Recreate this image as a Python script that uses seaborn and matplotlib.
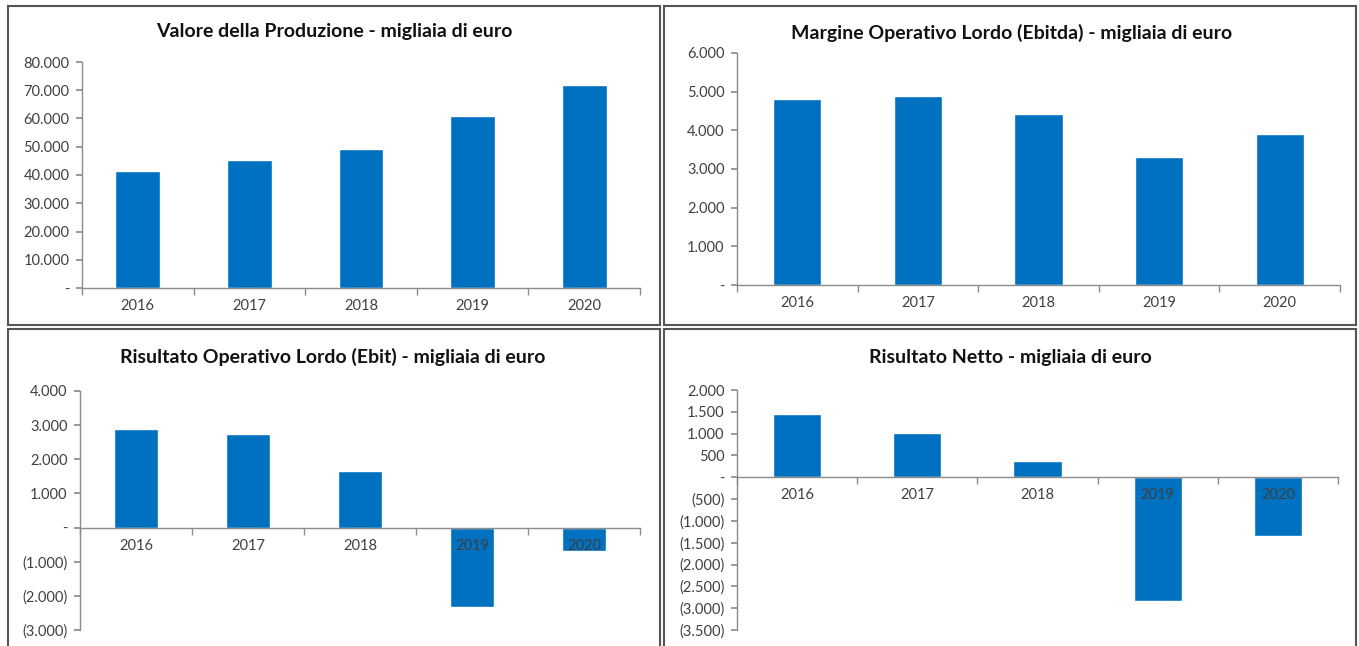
import matplotlib
matplotlib.use("Agg")
import matplotlib.pyplot as plt
import matplotlib.ticker as mticker
from matplotlib.patches import Rectangle
import seaborn as sns
import pandas as pd

anni = ["2016", "2017", "2018", "2019", "2020"]

valore_produzione = [41250, 45150, 49050, 61000, 71900]
ebitda = [4810, 4880, 4420, 3310, 3905]
ebit = [2880, 2745, 1645, -2315, -680]
risultato_netto = [1450, 1010, 375, -2835, -1355]

titoli = [
    "Valore della Produzione - migliaia di euro",
    "Margine Operativo Lordo (Ebitda) - migliaia di euro",
    "Risultato Operativo Lordo (Ebit) - migliaia di euro",
    "Risultato Netto - migliaia di euro",
]

BLU = "#0070C0"

sns.set_theme(style="white")
plt.rcParams["font.family"] = ["Lato", "DejaVu Sans"]


def formato_euro(v, pos):
    if abs(v) < 1e-9:
        return "-"
    s = f"{abs(v):,.0f}".replace(",", ".")
    return f"({s})" if v < 0 else s


def grafico(ax, valori, titolo, ymin, ymax, passo, y_titolo):
    df = pd.DataFrame({"anno": anni, "valore": valori})
    sns.barplot(data=df, x="anno", y="valore", color=BLU, width=0.4,
                saturation=1, ax=ax)
    ax.set_axisbelow(False)
    ax.set_xlim(-0.5, len(anni) - 0.5)
    ax.set_ylim(ymin, ymax)
    ax.yaxis.set_major_locator(mticker.MultipleLocator(passo))
    ax.yaxis.set_major_formatter(mticker.FuncFormatter(formato_euro))
    ax.set_xlabel("")
    ax.set_ylabel("")
    for lato in ["top", "right"]:
        ax.spines[lato].set_visible(False)
    ax.spines["bottom"].set_position(("data", 0))
    for lato in ["left", "bottom"]:
        ax.spines[lato].set_color("#8c8c8c")
        ax.spines[lato].set_linewidth(1.0)
    ax.set_xticks([i + 0.5 for i in range(-1, len(anni))], minor=True)
    ax.tick_params(axis="x", which="major", length=0, pad=8,
                   labelsize=10.5, labelcolor="#404040")
    ax.tick_params(axis="x", which="minor", length=5, color="#8c8c8c",
                   direction="out", bottom=True)
    ax.tick_params(axis="y", length=4, color="#8c8c8c", left=True,
                   labelsize=10.5, labelcolor="#404040", pad=5)
    fig.text(ax.get_position().x0 + ax.get_position().width / 2 - 0.02,
             y_titolo, titolo, ha="center", va="center",
             fontsize=14, fontweight="bold", color="#111111")


fig = plt.figure(figsize=(13.59, 6.46), dpi=100)

# cornici dei quattro riquadri
for x0, y0, x1, y1 in [(8, 6, 660, 325), (664, 6, 1356, 325),
                       (8, 329, 660, 660), (664, 329, 1356, 660)]:
    fig.patches.append(Rectangle((x0 / 1359, 1 - y1 / 646),
                                 (x1 - x0) / 1359, (y1 - y0) / 646,
                                 transform=fig.transFigure, fill=False,
                                 edgecolor="#555555", linewidth=1.5))

ax1 = fig.add_axes([82 / 1359, 1 - 288 / 646, 558 / 1359, 226 / 646])
grafico(ax1, valore_produzione, titoli[0], 0, 80000, 10000, 1 - 31 / 646)

ax2 = fig.add_axes([737 / 1359, 1 - 285 / 646, 603 / 1359, 232 / 646])
grafico(ax2, ebitda, titoli[1], 0, 6000, 1000, 1 - 33 / 646)

ax3 = fig.add_axes([80 / 1359, 1 - 630 / 646, 560 / 1359, 239 / 646])
grafico(ax3, ebit, titoli[2], -3000, 4000, 1000, 1 - 357 / 646)

ax4 = fig.add_axes([737 / 1359, 1 - 630 / 646, 601 / 1359, 240 / 646])
grafico(ax4, risultato_netto, titoli[3], -3500, 2000, 500, 1 - 357 / 646)

fig.savefig("out.png", dpi=100)
